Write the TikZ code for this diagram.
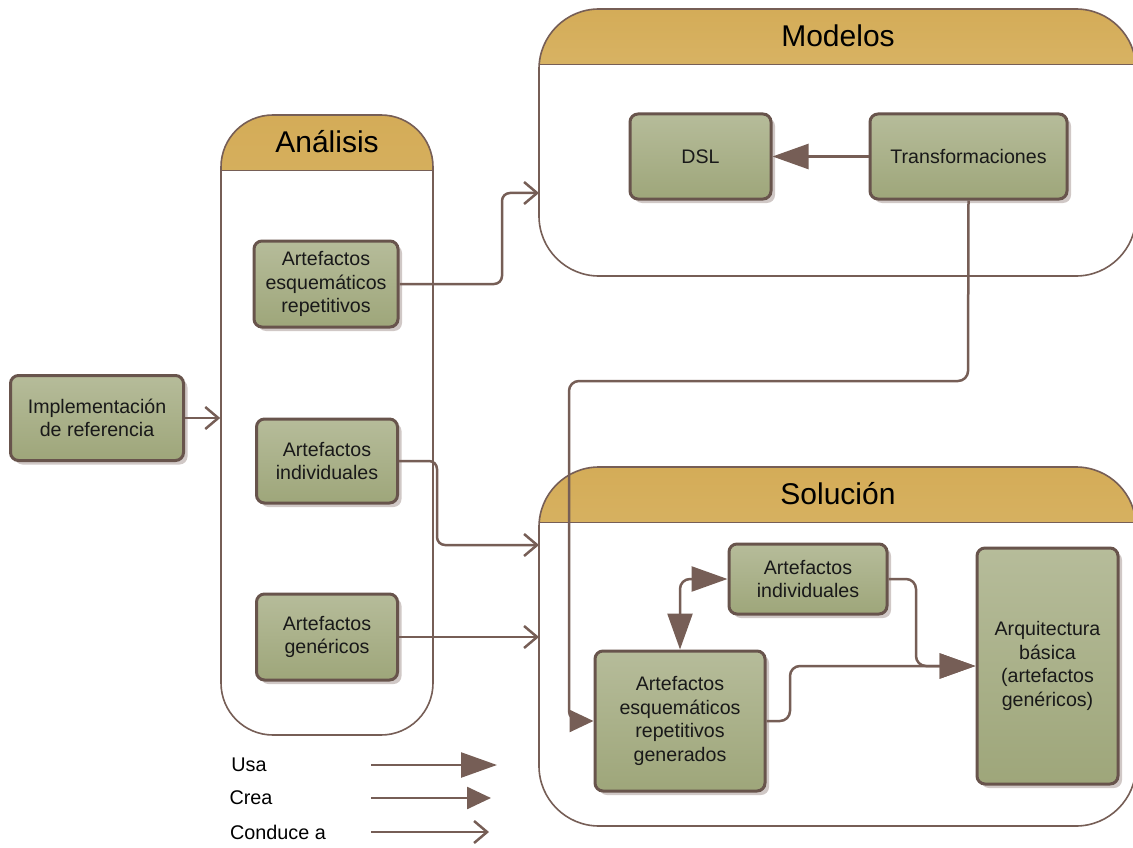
\documentclass[tikz,border=0pt]{standalone}
\usepackage{fontspec}
\setmainfont{Liberation Sans}
\usetikzlibrary{arrows.meta,shadows,calc}
\definecolor{lineC}{RGB}{118,94,86}
\definecolor{borderC}{RGB}{104,84,76}
\definecolor{boxA}{RGB}{182,188,154}
\definecolor{boxB}{RGB}{158,166,122}
\definecolor{goldA}{RGB}{212,172,88}
\definecolor{goldB}{RGB}{229,203,140}
\definecolor{shadowC}{RGB}{208,200,198}
\definecolor{txtC}{RGB}{25,25,25}
\begin{document}
\begin{tikzpicture}[x=1pt,y=-1pt,
  box/.style={draw=borderC, line width=3pt, rounded corners=8pt, top color=boxA, bottom color=boxB,
    drop shadow={shadow xshift=4pt, shadow yshift=-4pt, fill=shadowC, opacity=1},
    align=center, inner sep=0pt, text=txtC, font=\fontsize{19.6}{23.5}\selectfont},
  container/.style={draw=lineC, line width=1.6pt, fill=white, rounded corners=#1, inner sep=0pt,
    path picture={
      \shade[sharp corners, shading=axis, top color=goldA, bottom color=goldB, middle color=goldA!50!goldB] (path picture bounding box.north west) rectangle ([yshift=-55.5pt]path picture bounding box.north east);
      \draw[sharp corners, lineC, line width=1.6pt] ([yshift=-55.5pt]path picture bounding box.north west) -- ([yshift=-55.5pt]path picture bounding box.north east);}},
  title/.style={font=\fontsize{30}{34}\selectfont, text=black},
  conn/.style={draw=lineC, line width=2.5pt},
  usa/.style={-{Triangle[length=36pt,width=25pt]}},
  usausa/.style={{Triangle[length=36pt,width=25pt]}-{Triangle[length=36pt,width=25pt]}},
  crea/.style={-{Triangle[length=24pt,width=22pt]}},
  conduce/.style={-{Straight Barb[length=13pt,width=22pt]}},
  legend/.style={font=\fontsize{19.8}{22}\selectfont, text=black}
]
\useasboundingbox (0,0) rectangle (1133,848);
\clip (0,0) rectangle (1133,848);

% containers
\node[container=52pt, minimum width=212pt, minimum height=620pt] (analisis) at (327,425) {};
\node[container=60pt, minimum width=597pt, minimum height=267pt] (modelos) at (837.5,142.5) {};
\node[container=60pt, minimum width=597pt, minimum height=359pt] (solucion) at (837.5,646.5) {};
\node[title] (tAnalisis) at (327,142) {Análisis};
\node[title] (tModelos) at (838,36) {Modelos};
\node[title] (tSolucion) at (838,494) {Solución};

% boxes
\node[box, minimum width=173pt, minimum height=85pt] (impl) at (97,418) {Implementación\\de referencia};
\node[box, minimum width=144pt, minimum height=86pt] (aer) at (326,284) {Artefactos\\esquemáticos\\repetitivos};
\node[box, minimum width=141pt, minimum height=84pt] (ai) at (327,461) {Artefactos\\individuales};
\node[box, minimum width=141pt, minimum height=86pt] (ag) at (327,637) {Artefactos\\genéricos};
\node[box, minimum width=141pt, minimum height=85pt] (dsl) at (700.5,156.5) {DSL};
\node[box, minimum width=197pt, minimum height=85pt] (trans) at (968.5,156.5) {Transformaciones};
\node[box, minimum width=158pt, minimum height=70pt] (sai) at (808,579) {Artefactos\\individuales};
\node[box, minimum width=170pt, minimum height=140pt] (saer) at (680,721) {Artefactos\\esquemáticos\\repetitivos\\generados};
\node[box, minimum width=141pt, minimum height=236pt] (arq) at (1047.5,666) {Arquitectura\\básica\\(artefactos\\genéricos)};

% free ends on containers
\coordinate (mIn) at (539,193);
\coordinate (sIn1) at (539,545);
\coordinate (sIn2) at (539,636);

% connectors
\draw[conn, conduce] (impl.east) -- (impl.east -| analisis.west);
\draw[conn, conduce, rounded corners=8pt] (aer.east) -- (502,284) |- (mIn);
\draw[conn, conduce, rounded corners=8pt] (ai.east) -- (437,461) |- (sIn1);
\draw[conn, conduce] (ag.east) -- (ag.east -| sIn2);
\draw[conn, usa] (trans.west) -- (dsl.east);
\draw[conn, crea, rounded corners=10pt] (trans.south) -- (968,381) -- (569,381) |- (saer.west);
\draw[conn, usausa, rounded corners=10pt] (sai.west) -| (saer.north);
\draw[conn, usa, rounded corners=10pt] (sai.east) -- (916,579) |- (arq.west);
\draw[conn, usa, rounded corners=10pt] (saer.east) -- (790,721) |- (arq.west);

% legend
\node[legend] (lUsa) at (249,765) {Usa};
\node[legend] (lCrea) at (251,798) {Crea};
\node[legend] (lCond) at (278,832) {Conduce a};
\coordinate (u1) at (371,765); \coordinate (u2) at (497,765);
\coordinate (c1) at (371,798); \coordinate (c2) at (491,798);
\coordinate (d1) at (371,832); \coordinate (d2) at (489,832);
\draw[conn, usa] (u1) -- (u2);
\draw[conn, crea] (c1) -- (c2);
\draw[conn, conduce] (d1) -- (d2);
\end{tikzpicture}
\end{document}
